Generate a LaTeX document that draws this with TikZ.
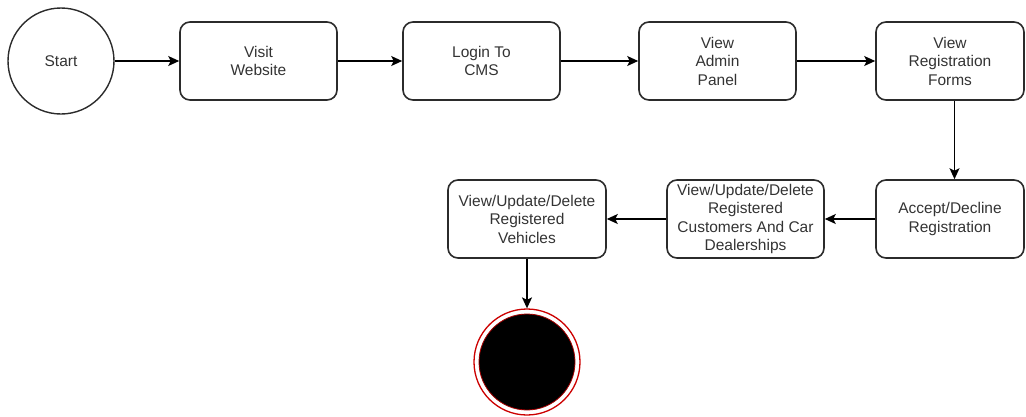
\documentclass[tikz,border=0pt]{standalone}
\usepackage{fontspec}
\setmainfont{Liberation Sans}
\usetikzlibrary{arrows.meta}
\definecolor{txt}{HTML}{333333}
\definecolor{edge}{HTML}{2B2B2B}
\begin{document}
\begin{tikzpicture}[x=1pt,y=1pt,
  box/.style={draw=edge, line width=1.6pt, rounded corners=10pt, minimum height=78pt,
    align=center, text=txt, font=\fontsize{15.5}{18.5}\selectfont, inner sep=0pt},
  startnode/.style={draw=edge, circle, line width=1.4pt, minimum size=106pt, inner sep=0pt,
    text=txt, font=\fontsize{15.5}{18.5}\selectfont},
  arr/.style={-{Stealth[length=11pt,width=10pt,inset=2.5pt]}, line width=1.5pt, draw=black}]
\useasboundingbox (0,0) rectangle (1026,-416);
\node[startnode] (start) at (61,-61) {Start};
\node[box, minimum width=157pt] (visit) at (258.5,-61) {Visit\\Website};
\node[box, minimum width=157pt] (login) at (481.5,-61) {Login To\\CMS};
\node[box, minimum width=157pt] (admin) at (717.5,-61) {View\\Admin\\Panel};
\node[box, minimum width=148pt] (forms) at (950,-61) {View\\Registration\\Forms};
\node[box, minimum width=148pt] (accept) at (950,-219) {Accept/Decline\\Registration};
\node[box, minimum width=157pt] (cust) at (745.5,-219) {View/Update/Delete\\Registered\\Customers And Car\\Dealerships};
\node[box, minimum width=158pt] (veh) at (527,-219) {View/Update/Delete\\Registered\\Vehicles};
\node[circle, draw=red!80!black, line width=1.3pt, minimum size=106pt, inner sep=0pt] (end) at (527,-362) {};
\fill[black] (end.center) circle (48pt);
\draw[red!65!black, line width=0.8pt] (end.center) circle (48pt);
\draw[arr] (start) -- (visit);
\draw[arr] (visit) -- (login);
\draw[arr] (login) -- (admin);
\draw[arr] (admin) -- (forms);
\draw[arr] ([xshift=4.5pt]forms.south) -- ([xshift=4.5pt]accept.north);
\draw[arr] (accept) -- (cust);
\draw[arr] (cust) -- (veh);
\draw[arr] (veh) -- (end);
\end{tikzpicture}
\end{document}
